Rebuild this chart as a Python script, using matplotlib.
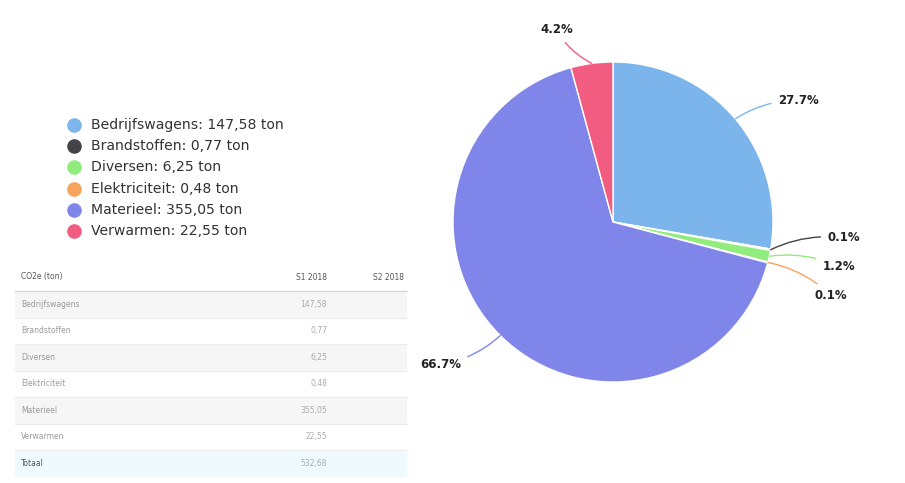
import matplotlib.pyplot as plt
import numpy as np

categories = ["Bedrijfswagens", "Brandstoffen", "Diversen", "Elektriciteit", "Materieel", "Verwarmen"]
tons = [147.58, 0.77, 6.25, 0.48, 355.05, 22.55]
tons_text = ["147,58", "0,77", "6,25", "0,48", "355,05", "22,55"]
total_text = "532,68"
colors = ["#7cb5ec", "#434348", "#90ed7d", "#f7a35c", "#8085e9", "#f15c80"]

# label positions (pie radius = 1, center = 0,0) and alignment
label_pos = [(1.03, 0.76), (1.34, -0.10), (1.31, -0.28), (1.26, -0.46), (-0.95, -0.89), (-0.25, 1.20)]
label_ha = ["left", "left", "left", "left", "right", "right"]

W, H = 905, 483
fig = plt.figure(figsize=(W / 100, H / 100), dpi=100)

# overlay in pixel coords for legend + table
bg = fig.add_axes([0, 0, 1, 1])
bg.set_xlim(0, W)
bg.set_ylim(H, 0)
bg.axis("off")

# legend
for i, (c, v, col) in enumerate(zip(categories, tons_text, colors)):
    y = 125 + i * 21.2
    bg.scatter([74], [y], s=90, color=col, zorder=3)
    bg.text(91, y, f"{c}: {v} ton", fontsize=10.1, color="#333333", va="center", ha="left")

# table
row_edges = [291, 317.5, 344, 370.5, 397, 423.5, 450, 477]
x0, x1 = 15, 407
bg.text(21, 277, "CO2e (ton)", fontsize=5.5, color="#555555", va="center")
bg.text(327, 277, "S1 2018", fontsize=5.5, color="#555555", va="center", ha="right")
bg.text(404, 277, "S2 2018", fontsize=5.5, color="#555555", va="center", ha="right")
bg.plot([x0, x1], [291, 291], color="#d8d8d8", lw=1)
rows = categories + ["Totaal"]
vals = tons_text + [total_text]
for i, (name, val) in enumerate(zip(rows, vals)):
    top, bot = row_edges[i], row_edges[i + 1]
    if name == "Totaal":
        fill = "#eefafd"
    elif i % 2 == 0:
        fill = "#f6f6f6"
    else:
        fill = "#ffffff"
    bg.add_patch(plt.Rectangle((x0, top), x1 - x0, bot - top, color=fill, lw=0, zorder=0))
    if i > 0:
        bg.plot([x0, x1], [top, top], color="#ececec", lw=0.8, zorder=1)
    ym = (top + bot) / 2
    tcol = "#555555" if name == "Totaal" else "#9a9a9a"
    bg.text(21, ym, name, fontsize=5.5, color=tcol, va="center")
    bg.text(327, ym, val, fontsize=5.5, color="#aaaaaa", va="center", ha="right")

# pie
R = 160
cx, cy = 613, H - 222
xl, xr, yb, yt = -1.5, 1.8, -1.35, 1.4
ax = fig.add_axes([(cx + xl * R) / W, (cy + yb * R) / H, (xr - xl) * R / W, (yt - yb) * R / H])
wedges, _ = ax.pie(tons, colors=colors, startangle=90, counterclock=False, radius=1,
                   wedgeprops=dict(edgecolor="white", linewidth=1))
ax.set_xlim(xl, xr)
ax.set_ylim(yb, yt)
ax.set_aspect("equal")
ax.axis("off")

total = sum(tons)
for w, v, col, pos, ha in zip(wedges, tons, colors, label_pos, label_ha):
    ang = np.deg2rad((w.theta1 + w.theta2) / 2)
    edge = (np.cos(ang), np.sin(ang))
    pct = f"{v / total * 100:.1f}%"
    ax.annotate(pct, xy=edge, xytext=pos, ha=ha, va="center", fontsize=8.5,
                fontweight="bold", color="#222222",
                arrowprops=dict(arrowstyle="-", color=col, lw=1, shrinkA=3, shrinkB=0,
                                connectionstyle="arc3,rad=0.15"))

fig.savefig("out.png", dpi=100)
